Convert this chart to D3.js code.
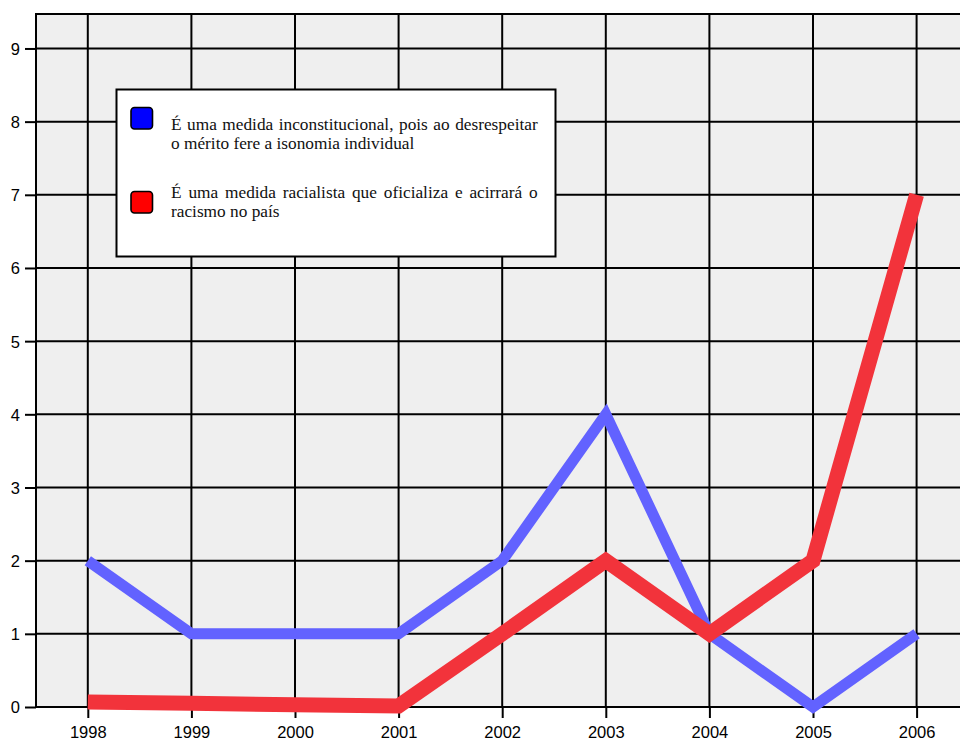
<!DOCTYPE html>
<html>
<head>
<meta charset="utf-8">
<script src="https://cdn.jsdelivr.net/npm/d3@7"></script>
<style>
  html, body { margin: 0; padding: 0; background: #ffffff; }
  svg { display: block; }
</style>
</head>
<body>
<svg id="chart" width="960" height="740"></svg>
<script>
const years = ["1998","1999","2000","2001","2002","2003","2004","2005","2006"];
const blueValues = [2, 1, 1, 1, 2, 4, 1, 0, 1];
const redValues = [0.07, 0.05, 0.03, 0.015, 1, 2, 1, 2, 7];
const yTicks = [0, 1, 2, 3, 4, 5, 6, 7, 8, 9];
const legendBlue = ["É uma medida inconstitucional, pois ao desrespeitar", "o mérito fere a isonomia individual"];
const legendRed = ["É uma medida racialista que oficializa e acirrará o", "racismo no país"];

(function () {
const svg = d3.select("#chart");
const pLeft = 36, pTop = 14, pBottom = 707;
const step = 103.6;
const x = d3.scalePoint().domain(years).range([pLeft + step / 2, pLeft + step / 2 + step * (years.length - 1)]);
const pRight = pLeft + step * years.length;
const y = d3.scaleLinear().domain([0, 9.471]).range([pBottom, pTop]);

// plot background
svg.append("rect").attr("x", pLeft).attr("y", pTop).attr("width", pRight - pLeft).attr("height", pBottom - pTop)
  .attr("fill", "#efefef");

// grid
const g = svg.append("g").attr("stroke", "#000").attr("stroke-width", 2);
g.selectAll("line.h").data(yTicks).join("line").attr("class", "h")
  .attr("x1", pLeft).attr("x2", pRight).attr("y1", d => y(d)).attr("y2", d => y(d));
g.selectAll("line.v").data(years).join("line").attr("class", "v")
  .attr("x1", d => x(d)).attr("x2", d => x(d)).attr("y1", pTop).attr("y2", pBottom);
g.append("line").attr("x1", pLeft - 1).attr("x2", pRight).attr("y1", pTop).attr("y2", pTop);
g.append("line").attr("x1", pLeft).attr("x2", pLeft).attr("y1", pTop).attr("y2", pBottom);

// axes
const yAxis = d3.axisLeft(y).tickValues(yTicks).tickSize(11).tickPadding(5).tickFormat(d3.format("d"));
const ya = svg.append("g").attr("transform", `translate(${pLeft},0)`).call(yAxis);
const xAxis = d3.axisBottom(x).tickSize(11).tickPadding(5);
const xa = svg.append("g").attr("transform", `translate(0,${pBottom})`).call(xAxis);
[ya, xa].forEach(a => {
  a.select(".domain").remove();
  a.selectAll(".tick line").attr("stroke", "#000").attr("stroke-width", 2);
  a.selectAll(".tick text").attr("fill", "#000").style("font-family", "'Liberation Sans', Arial, sans-serif").style("font-size", "16.5px");
});
xa.selectAll(".tick text").attr("dy", null).attr("y", 31);
ya.selectAll(".tick text").attr("dy", "0.36em").attr("x", -16);

// lines
const line = d3.line().x((d, i) => x(years[i])).y(d => y(d));
svg.append("path").datum(blueValues).attr("d", line).attr("fill", "none")
  .attr("stroke", "#6262ff").attr("stroke-width", 11).attr("stroke-linejoin", "miter").attr("stroke-linecap", "butt");
svg.append("path").datum(redValues).attr("d", line).attr("fill", "none")
  .attr("stroke", "#f2333b").attr("stroke-width", 15).attr("stroke-linejoin", "miter").attr("stroke-linecap", "butt");

// legend
svg.append("rect").attr("x", 116.5).attr("y", 89.5).attr("width", 439).attr("height", 167)
  .attr("fill", "#fff").attr("stroke", "#000").attr("stroke-width", 2);
const legendItems = [
  { color: "#0000ff", lines: legendBlue, swY: 107.5, baseY: 129.5 },
  { color: "#ff0000", lines: legendRed, swY: 191.5, baseY: 197.5 }
];
const textX = 171, textRight = 537.7, lineH = 19;
legendItems.forEach(item => {
  svg.append("rect").attr("x", 131).attr("y", item.swY).attr("width", 21.5).attr("height", 21.5)
    .attr("rx", 3.5).attr("fill", item.color).attr("stroke", "#000").attr("stroke-width", 1.6);
  item.lines.forEach((txt, li) => {
    const by = item.baseY + li * lineH;
    const t = svg.append("text").attr("y", by).attr("fill", "#111")
      .style("font-family", "'Liberation Serif', 'Times New Roman', serif").style("font-size", "17.3px");
    if (li === 0) {
      const words = txt.split(" ");
      const spans = words.map(w => t.append("tspan").text(w));
      const widths = spans.map(s => s.node().getComputedTextLength());
      const total = d3.sum(widths);
      const gap = (textRight - textX - total) / (words.length - 1);
      let cx = textX;
      spans.forEach((s, i) => { s.attr("x", cx); cx += widths[i] + gap; });
    } else {
      t.attr("x", textX).text(txt);
    }
  });
});
})();
</script>
</body>
</html>
